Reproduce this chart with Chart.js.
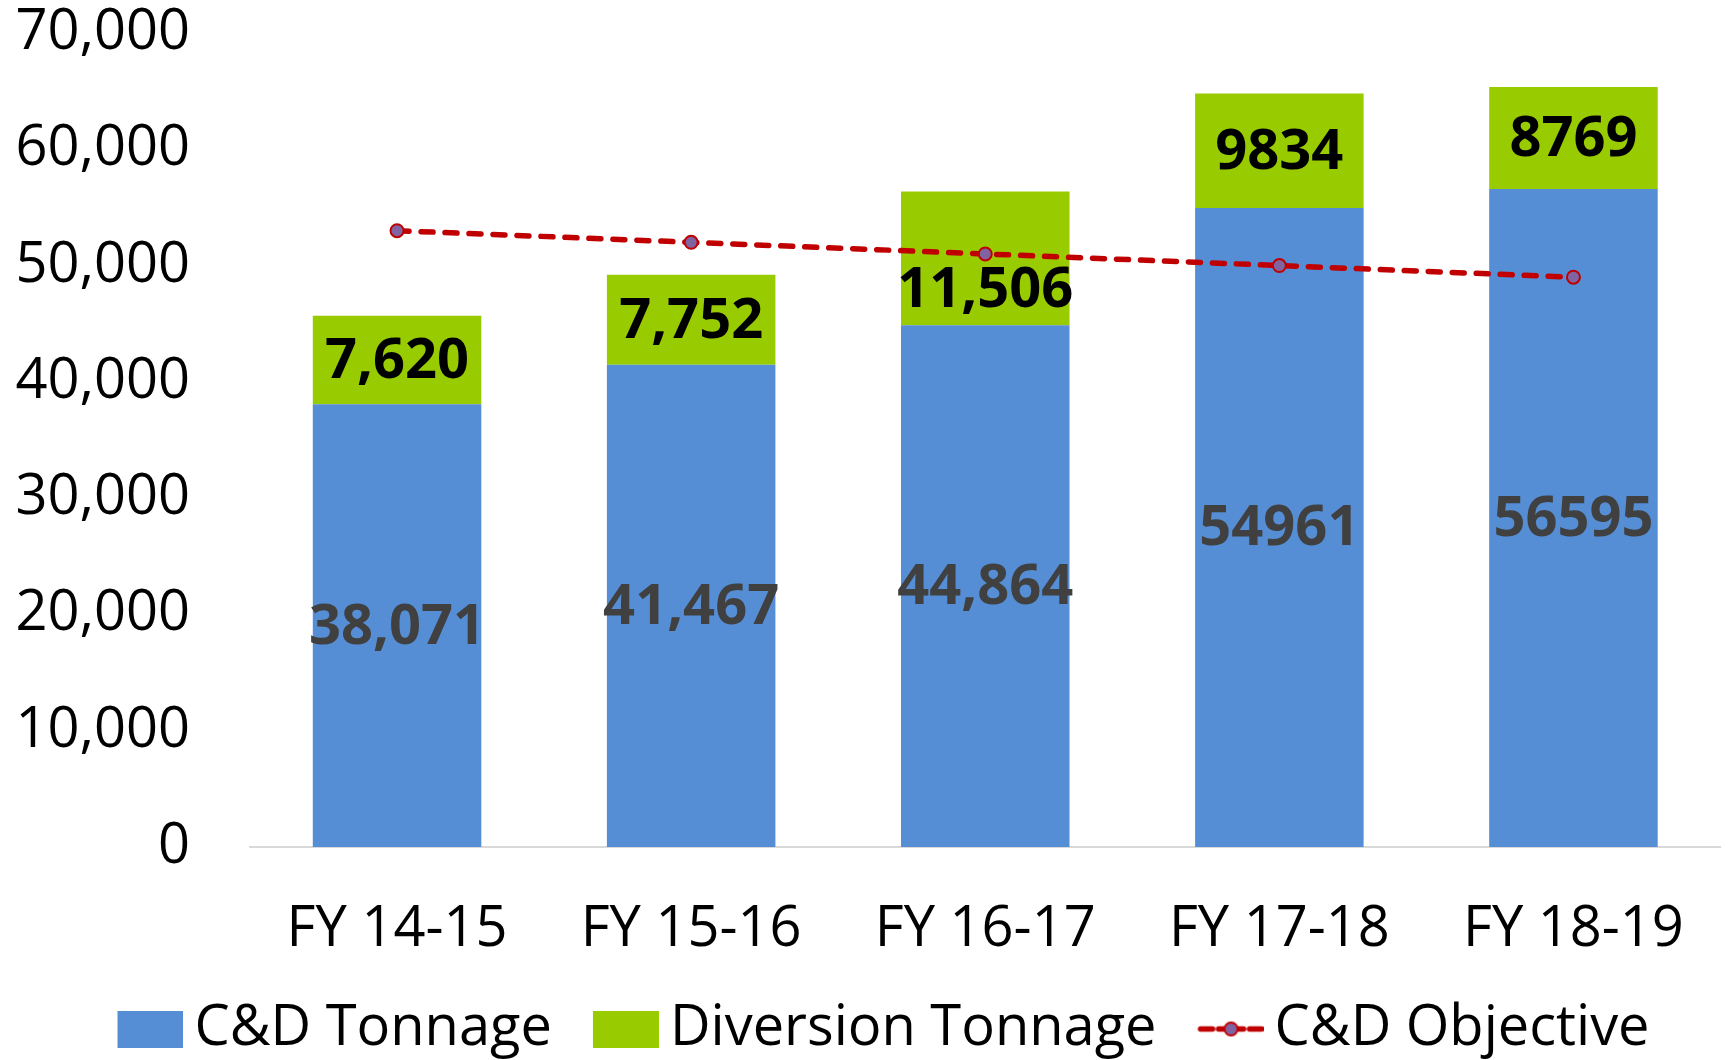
<!DOCTYPE html>
<html>
<head>
<meta charset="utf-8">
<script src="https://cdn.jsdelivr.net/npm/chart.js@4.4.1/dist/chart.umd.min.js"></script>
<style>
  html, body { margin: 0; padding: 0; background: #ffffff; }
  #wrap { width: 1729px; height: 1060px; position: relative; }
</style>
</head>
<body>
<div id="wrap"><canvas id="c" width="1729" height="1060"></canvas></div>
<script>
// ---- data ----
const categories = ['FY 14-15', 'FY 15-16', 'FY 16-17', 'FY 17-18', 'FY 18-19'];
const cdTonnage = [38071, 41467, 44864, 54961, 56595];
const diversionTonnage = [7620, 7752, 11506, 9834, 8769];
const cdObjective = [53000, 52000, 51000, 50000, 49000];
const cdLabelText = ['38,071', '41,467', '44,864', '54961', '56595'];
const diversionLabelText = ['7,620', '7,752', '11,506', '9834', '8769'];
const seriesNames = ['C&D Tonnage', 'Diversion Tonnage', 'C&D Objective'];
const yMin = 0, yMax = 70000, yStep = 10000;

// ---- styles ----
const FONT = "'Open Sans', 'Noto Sans', sans-serif";
const BLUE = '#558ED5';
const GREEN = '#99CC00';
const RED = '#C00000';
const PURPLE = '#8064A2';
const ICON_W = 107, ICON_X = 41;

function boxIcon(color) {
  const cv = document.createElement('canvas');
  cv.width = ICON_W; cv.height = 37;
  const g = cv.getContext('2d');
  g.fillStyle = color;
  g.fillRect(ICON_X, 0, 66, 37);
  return cv;
}
function lineIcon() {
  const cv = document.createElement('canvas');
  cv.width = ICON_W; cv.height = 37;
  const g = cv.getContext('2d');
  const o = ICON_X;
  g.strokeStyle = RED; g.lineWidth = 5.5; g.lineCap = 'round';
  g.beginPath(); g.moveTo(o + 3, 18.5); g.lineTo(o + 15, 18.5); g.stroke();
  g.beginPath(); g.moveTo(o + 52, 18.5); g.lineTo(o + 64, 18.5); g.stroke();
  g.beginPath(); g.moveTo(o + 21, 18.5); g.lineTo(o + 46, 18.5); g.stroke();
  g.beginPath(); g.arc(o + 33.5, 18.5, 6.5, 0, Math.PI * 2);
  g.fillStyle = PURPLE; g.fill();
  g.lineWidth = 2; g.strokeStyle = RED; g.stroke();
  return cv;
}
const legendIcons = [boxIcon(BLUE), boxIcon(GREEN), lineIcon()];

const barLabelPlugin = {
  id: 'barLabels',
  afterDatasetsDraw(chart) {
    const ctx = chart.ctx;
    ctx.save();
    ctx.font = "bold 56px " + FONT;
    ctx.textAlign = 'center';
    ctx.textBaseline = 'middle';
    const texts = [cdLabelText, diversionLabelText];
    const colors = ['#404040', '#000000'];
    [0, 1].forEach(di => {
      const meta = chart.getDatasetMeta(di);
      meta.data.forEach((el, i) => {
        const p = el.getProps(['x', 'y', 'base'], true);
        let cy = (p.y + p.base) / 2;
        if (di === 1 && i === 2) cy += 31;
        ctx.fillStyle = colors[di];
        ctx.fillText(texts[di][i], p.x, cy + 2);
      });
    });
    ctx.restore();
  }
};

new Chart(document.getElementById('c'), {
  type: 'bar',
  data: {
    labels: categories,
    datasets: [
      {
        label: seriesNames[0], data: cdTonnage, backgroundColor: BLUE,
        stack: 'tons', order: 2, categoryPercentage: 1.0, barPercentage: 0.573
      },
      {
        label: seriesNames[1], data: diversionTonnage, backgroundColor: GREEN,
        stack: 'tons', order: 2, categoryPercentage: 1.0, barPercentage: 0.573
      },
      {
        type: 'line', label: seriesNames[2], data: cdObjective, stack: 'obj', order: 0,
        borderColor: RED, borderWidth: 5.5, borderDash: [12, 12], borderCapStyle: 'round',
        fill: false, tension: 0,
        pointRadius: 6.5, pointBackgroundColor: PURPLE, pointBorderColor: RED, pointBorderWidth: 2
      }
    ]
  },
  options: {
    responsive: false,
    animation: false,
    devicePixelRatio: 1,
    layout: { padding: { left: 16, right: 2, top: 0, bottom: -7 } },
    scales: {
      x: {
        stacked: true,
        grid: { display: false, drawTicks: false },
        border: { display: true, color: '#D9D9D9', width: 2 },
        afterFit(scale) { scale.height = 137; },
        ticks: { color: '#000', padding: 36, font: { family: FONT, size: 56, lineHeight: 94 / 56 } }
      },
      y: {
        stacked: true,
        min: yMin, max: yMax,
        grid: { display: false, drawTicks: false },
        border: { display: false },
        afterFit(scale) { scale.width = 234; scale.paddingTop = 33; scale.paddingBottom = 0; },
        ticks: {
          stepSize: yStep, color: '#000', padding: 60,
          font: { family: FONT, size: 56, lineHeight: 1.2 },
          callback: v => Number(v).toLocaleString('en-US')
        }
      }
    },
    plugins: {
      tooltip: { enabled: false },
      legend: {
        position: 'bottom',
        align: 'center',
        labels: {
          usePointStyle: true,
          pointStyleWidth: 73,
          boxHeight: 37,
          padding: 17,
          color: '#000',
          font: { family: FONT, size: 56 },
          generateLabels: () => seriesNames.map((n, i) => ({
            text: n, pointStyle: legendIcons[i], fillStyle: '#fff', strokeStyle: '#fff',
            lineWidth: 0, hidden: false, datasetIndex: i, fontColor: '#000'
          }))
        }
      }
    }
  },
  plugins: [barLabelPlugin]
});
</script>
</body>
</html>
